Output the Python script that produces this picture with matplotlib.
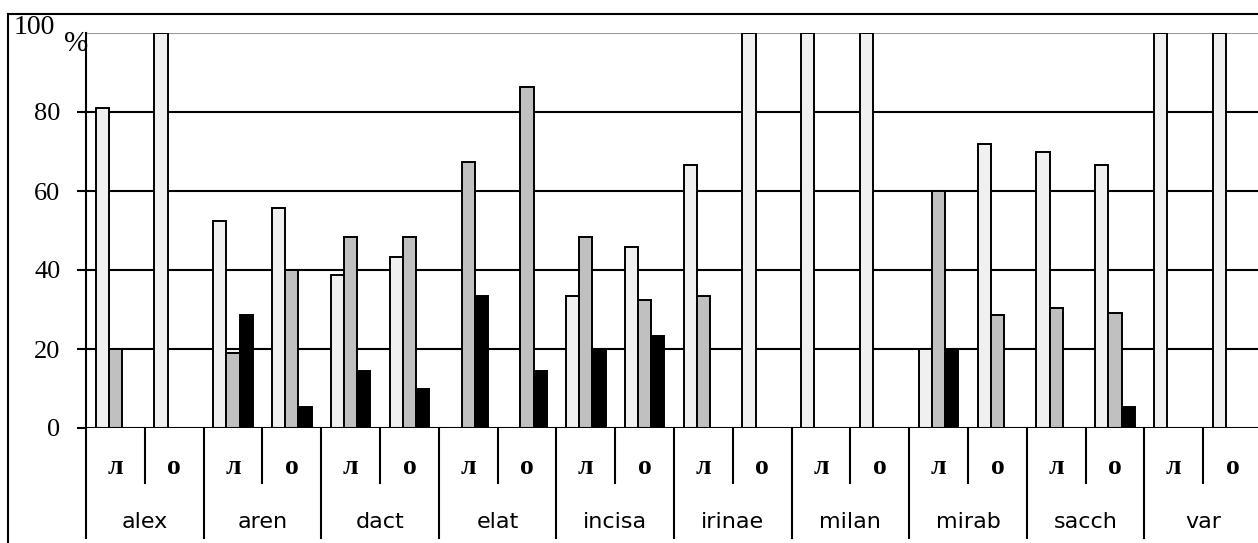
import matplotlib
matplotlib.use("Agg")
import matplotlib.pyplot as plt
from matplotlib.lines import Line2D
import matplotlib.transforms as mtransforms
import numpy as np

species = ["alex", "aren", "dact", "elat", "incisa", "irinae", "milan", "mirab", "sacch", "var"]
subcats = ["л", "о"]
# 20 groups: species x (л, о)
light = [81, 100, 52.4, 55.6, 38.7, 43.4, 0, 0, 33.3, 45.8, 66.7, 100, 100, 100, 20, 72.0, 70.0, 66.7, 100, 100]
gray  = [20, 0, 19, 40, 48.4, 48.4, 67.3, 86.4, 48.4, 32.4, 33.3, 0, 0, 0, 60, 28.6, 30.3, 29.2, 0, 0]
black = [0, 0, 28.6, 5.4, 14.5, 10, 33.3, 14.5, 20, 23.2, 0, 0, 0, 0, 20, 0, 0, 5.4, 0, 0]
yticks = [0, 20, 40, 60, 80]

W, H = 1258, 543
fig = plt.figure(figsize=(W / 100, H / 100), dpi=100)
ax = fig.add_axes([86 / W, 115 / H, 1176 / W, 395 / H])

n = len(light)
x = np.arange(n)
bw = 0.224
ax.set_xlim(-0.5, n - 0.5)
ax.set_ylim(0, 100)

# gridlines
for yv in [20, 40, 60, 80]:
    ax.axhline(yv, color="black", lw=1.5, zorder=1)
ax.axhline(100, color="#9a9a9a", lw=1.5, zorder=1)
ax.axhline(0, color="black", lw=1.5, zorder=3)

kw = dict(width=bw, edgecolor="black", linewidth=1.4, zorder=2)
ax.bar(x - bw, light, color="#F0F0F0", **kw)
ax.bar(x, gray, color="#C0C0C0", **kw)
ax.bar(x + bw, black, color="black", **kw)

for s in ["top", "right", "bottom"]:
    ax.spines[s].set_visible(False)
ax.spines["left"].set_linewidth(1.5)
ax.set_xticks([])
ax.set_yticks(yticks)
ax.set_yticklabels([str(v) for v in yticks], family="Liberation Serif", fontsize=19)
ax.tick_params(axis="y", direction="out", length=6.5, width=1.5, pad=12)

# "100" and "%"
fig.text(14 / W, 1 - 28 / H, "100", family="Liberation Serif", fontsize=20,
         ha="left", va="center")
fig.text(76 / W, 1 - 44 / H, "%", family="Liberation Serif", fontsize=21,
         ha="center", va="center", zorder=5)

trans = mtransforms.blended_transform_factory(ax.transData, ax.transAxes)
# separators
for i in range(n + 1):
    xe = i - 0.5
    ybot = -0.278 if i % 2 == 0 else -0.139
    ax.add_line(Line2D([xe, xe], [0, ybot], transform=trans, color="black",
                       lw=1.5, clip_on=False))
# labels
for i in range(n):
    ax.text(i, -0.1, subcats[i % 2], transform=trans, ha="center", va="center",
            family="Liberation Serif", fontweight="bold", fontsize=20)
for j, sp in enumerate(species):
    ax.text(2 * j + 0.5, -0.237, sp, transform=trans, ha="center", va="center",
            family="DejaVu Sans", fontsize=16)

# outer frame
fig.add_artist(Line2D([8 / W, 1.0], [1 - 14 / H, 1 - 14 / H], color="black", lw=1.5,
                      transform=fig.transFigure))
fig.add_artist(Line2D([8 / W, 8 / W], [0, 1 - 14 / H], color="black", lw=1.5,
                      transform=fig.transFigure))

fig.savefig("out.png", dpi=100)
